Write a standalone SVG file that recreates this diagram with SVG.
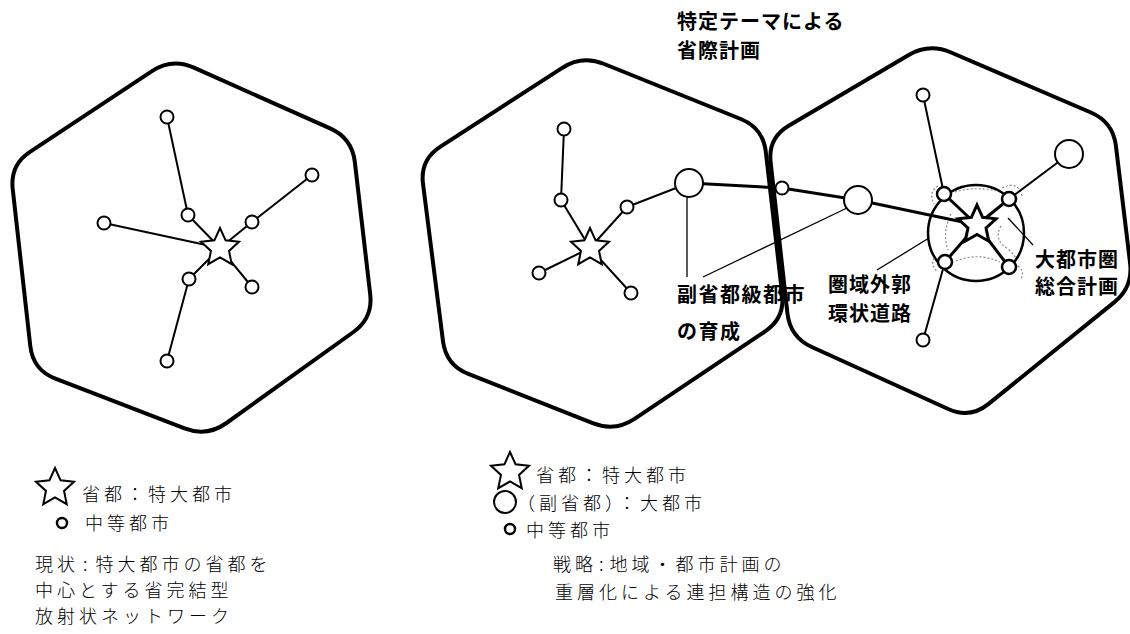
<svg xmlns="http://www.w3.org/2000/svg" width="1130" height="634" viewBox="0 0 1130 634">
<style>
.hex{fill:none;stroke:#000;stroke-width:4;stroke-linejoin:round}
.ln{stroke:#000;stroke-width:2;fill:none}
.lt{stroke:#000;stroke-width:3;fill:none}
.lbl{stroke:#000;stroke-width:1.3;fill:none}
.dot{stroke:#888;stroke-width:1.2;fill:none;stroke-dasharray:2 2}
.c{fill:#fff;stroke:#000;stroke-width:2}
.ct{fill:#fff;stroke:#000;stroke-width:2.5}
.st{fill:#fff;stroke:#000;stroke-width:2;stroke-linejoin:miter}
.stt{fill:#fff;stroke:#000;stroke-width:3;stroke-linejoin:miter}
.g{font-family:"Noto Sans CJK JP","Noto Sans CJK SC",sans-serif;font-weight:bold;font-size:20px;fill:#000}
.m{font-family:"Noto Sans CJK JP","Noto Sans CJK SC",sans-serif;font-weight:300;font-size:18px;fill:#000;letter-spacing:4px}
</style>
<defs>
<path id="star" d="M0,-20 L5.59,-7.69 L19.02,-6.18 L9.03,2.94 L11.76,16.18 L0,9.5 L-11.76,16.18 L-9.03,2.94 L-19.02,-6.18 L-5.59,-7.69 Z"/>
</defs>

<g id="regions">
<path id="hex-left" class="hex" d="M152.0,71.2 Q172,58 193.9,67.7 L330.1,128.3 Q352,138 354.8,161.8 L370.2,294.2 Q373,318 353.5,332.0 L226.5,423.0 Q207,437 184.6,428.4 L55.4,378.6 Q33,370 30.3,346.1 L12.7,188.9 Q10,165 30.0,151.8 Z"/>
<path id="hex-mid" class="hex" d="M561.9,68.1 Q582,55 604.2,64.0 L740.8,119.0 Q763,128 765.8,151.8 L782.2,294.2 Q785,318 765.1,331.4 L634.9,418.6 Q615,432 592.7,423.1 L468.3,373.9 Q446,365 443.0,341.2 L423.0,183.8 Q420,160 440.1,146.9 Z"/>
<path id="hex-right" class="hex" d="M908.3,55.2 Q929,43 951.1,52.5 L1090.9,112.5 Q1113,122 1115.9,145.8 L1130.1,263.2 Q1133,287 1114.4,302.1 L988.6,403.9 Q970,419 948.2,409.0 L811.8,347.0 Q790,337 787.4,313.1 L770.6,161.9 Q768,138 788.7,125.8 Z"/>
<circle id="metro-ring" cx="976" cy="233" r="48" fill="none" stroke="#000" stroke-width="2.5"/>
</g>

<g id="metro-dotted">
<path class="dot" d="M938,186 Q928,192 934,204"/>
<path class="dot" d="M955,192 Q975,186 997,191"/>
<path class="dot" d="M1002,188 Q1018,180 1022,196"/>
<path class="dot" d="M1001,226 Q993,240 1008,249 Q1015,255 1016,259"/>
<path class="dot" d="M1018,266 Q1026,272 1020,280"/>
<path class="dot" d="M956,261 Q978,252 1000,262"/>
<path class="dot" d="M934,258 Q930,266 938,272"/>
<path class="dot" d="M951,214 Q942,232 948,250"/>
</g>

<g id="connectors">
<line class="ln" x1="167" y1="117" x2="188" y2="215"/>
<line class="ln" x1="188" y1="215" x2="220" y2="248"/>
<line class="ln" x1="104" y1="223" x2="220" y2="248"/>
<line class="ln" x1="312" y1="175" x2="252" y2="222"/>
<line class="ln" x1="252" y1="222" x2="220" y2="248"/>
<line class="ln" x1="189" y1="279" x2="220" y2="248"/>
<line class="ln" x1="167" y1="361" x2="189" y2="279"/>
<line class="ln" x1="252" y1="287" x2="220" y2="248"/>

<line class="ln" x1="564" y1="129" x2="561" y2="200"/>
<line class="ln" x1="561" y1="200" x2="590" y2="248"/>
<line class="ln" x1="539" y1="273" x2="590" y2="248"/>
<line class="ln" x1="590" y1="248" x2="627" y2="207"/>
<line class="ln" x1="627" y1="207" x2="689" y2="183"/>
<line class="ln" x1="590" y1="248" x2="631" y2="293"/>
<line class="lt" x1="689" y1="183" x2="782" y2="188"/>
<line class="lt" x1="782" y1="188" x2="858" y2="200"/>
<line class="lt" x1="858" y1="200" x2="977" y2="225"/>

<line class="ln" x1="923" y1="95" x2="944" y2="194"/>
<line class="lt" x1="944" y1="194" x2="977" y2="225"/>
<line class="ln" x1="1009" y1="199" x2="1069" y2="154"/>
<line class="lt" x1="1009" y1="199" x2="977" y2="225"/>
<line class="lt" x1="945" y1="262" x2="977" y2="225"/>
<line class="lt" x1="1009" y1="267" x2="977" y2="225"/>
<line class="ln" x1="945" y1="262" x2="923" y2="340"/>

<line class="lbl" x1="687" y1="197" x2="687" y2="277"/>
<line class="lbl" x1="703" y1="277" x2="847" y2="208"/>
<line class="lbl" x1="877" y1="270" x2="929" y2="238"/>
<line class="lbl" x1="1033" y1="245" x2="1008" y2="218"/>
</g>

<g id="node-L-c1"><circle class="c" cx="167" cy="117" r="6.5"/></g>
<g id="node-L-c2"><circle class="c" cx="188" cy="215" r="6.5"/></g>
<g id="node-L-c3"><circle class="c" cx="104" cy="223" r="6.5"/></g>
<g id="node-L-c4"><circle class="c" cx="252" cy="222" r="6.5"/></g>
<g id="node-L-c5"><circle class="c" cx="312" cy="175" r="6.5"/></g>
<g id="node-L-c6"><circle class="c" cx="189" cy="279" r="6.5"/></g>
<g id="node-L-c7"><circle class="c" cx="252" cy="287" r="6.5"/></g>
<g id="node-L-c8"><circle class="c" cx="167" cy="361" r="6.5"/></g>
<g id="node-L-star"><use href="#star" class="st" transform="translate(220,248)"/></g>

<g id="node-M-c1"><circle class="c" cx="564" cy="129" r="6.5"/></g>
<g id="node-M-c2"><circle class="c" cx="561" cy="200" r="6.5"/></g>
<g id="node-M-c3"><circle class="c" cx="627" cy="207" r="6.5"/></g>
<g id="node-M-c4"><circle class="c" cx="539" cy="273" r="6.5"/></g>
<g id="node-M-c5"><circle class="c" cx="631" cy="293" r="6.5"/></g>
<g id="node-M-big"><circle class="c" cx="689" cy="183" r="14"/></g>
<g id="node-M-star"><use href="#star" class="st" transform="translate(590,248)"/></g>

<g id="node-X-c"><circle class="c" cx="782" cy="188" r="6.5"/></g>
<g id="node-R-big1"><circle class="c" cx="858" cy="200" r="14"/></g>
<g id="node-R-c1"><circle class="c" cx="923" cy="95" r="6.5"/></g>
<g id="node-R-big2"><circle class="c" cx="1069" cy="154" r="14"/></g>
<g id="node-R-tl"><circle class="ct" cx="944" cy="194" r="7"/></g>
<g id="node-R-tr"><circle class="ct" cx="1009" cy="199" r="7"/></g>
<g id="node-R-bl"><circle class="ct" cx="945" cy="262" r="7"/></g>
<g id="node-R-br"><circle class="ct" cx="1009" cy="267" r="7"/></g>
<g id="node-R-c6"><circle class="c" cx="923" cy="340" r="6.5"/></g>
<g id="node-R-star"><use href="#star" class="stt" transform="translate(977,225)"/></g>

<g id="labels">
<text class="g" x="677" y="29" letter-spacing="1">特定テーマによる</text>
<text class="g" x="677" y="58" letter-spacing="1">省際計画</text>
<text class="g" x="677" y="302" font-size="21" letter-spacing="1.5">副省都級都市</text>
<text class="g" x="677" y="339" font-size="21" letter-spacing="1.5">の育成</text>
<text class="g" x="828" y="292" font-size="21" letter-spacing="1">圏域外郭</text>
<text class="g" x="828" y="321" font-size="21" letter-spacing="1">環状道路</text>
<text class="g" x="1035" y="267" font-size="21" letter-spacing="1">大都市圏</text>
<text class="g" x="1035" y="294" font-size="21" letter-spacing="1">総合計画</text>
</g>

<g id="legend-left">
<use href="#star" class="st" transform="translate(55,488)"/>
<text class="m" x="82" y="501">省都：特大都市</text>
<circle cx="62" cy="523" r="5" fill="#fff" stroke="#000" stroke-width="2.5"/>
<text class="m" x="85" y="530">中等都市</text>
<text class="m" x="35" y="571">現状<tspan dx="4">:</tspan><tspan dx="4">特大都市の省都を</tspan></text>
<text class="m" x="35" y="597">中心とする省完結型</text>
<text class="m" x="35" y="623" letter-spacing="2">放射状ネットワーク</text>
</g>

<g id="legend-mid">
<use href="#star" class="st" transform="translate(510,472)"/>
<text class="m" x="536" y="482" letter-spacing="3">省都：特大都市</text>
<circle cx="505" cy="502" r="11" fill="#fff" stroke="#000" stroke-width="2"/>
<text class="m" x="517" y="510" letter-spacing="2">（副省都）：大都市</text>
<circle cx="510" cy="529" r="5" fill="#fff" stroke="#000" stroke-width="2.5"/>
<text class="m" x="526" y="537" letter-spacing="2">中等都市</text>
<text class="m" x="553" y="571">戦略<tspan dx="2">:</tspan><tspan dx="2">地域・都市計画の</tspan></text>
<text class="m" x="555" y="599">重層化による連担構造の強化</text>
</g>
</svg>
